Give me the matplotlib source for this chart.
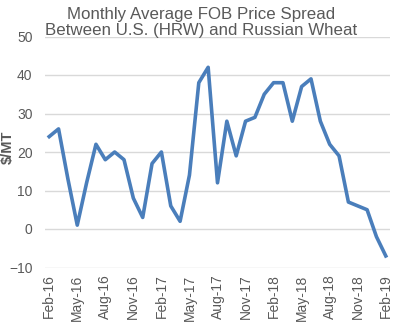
import matplotlib
matplotlib.use("Agg")
import matplotlib.pyplot as plt

plt.rcParams['font.family'] = ['Liberation Sans', 'DejaVu Sans']

months = ["Feb-16", "Mar-16", "Apr-16", "May-16", "Jun-16", "Jul-16", "Aug-16", "Sep-16", "Oct-16",
          "Nov-16", "Dec-16", "Jan-17", "Feb-17", "Mar-17", "Apr-17", "May-17", "Jun-17", "Jul-17",
          "Aug-17", "Sep-17", "Oct-17", "Nov-17", "Dec-17", "Jan-18", "Feb-18", "Mar-18", "Apr-18",
          "May-18", "Jun-18", "Jul-18", "Aug-18", "Sep-18", "Oct-18", "Nov-18", "Dec-18", "Jan-19",
          "Feb-19"]
spread = [24, 26, 13, 1, 12, 22, 18, 20, 18, 8, 3, 17, 20, 6, 2, 14, 38, 42, 12, 28, 19, 28, 29,
          35, 38, 38, 28, 37, 39, 28, 22, 19, 7, 6, 5, -2, -7]
yticks = [-10, 0, 10, 20, 30, 40, 50]

fig = plt.figure(figsize=(4.1, 3.35), dpi=100)
ax = fig.add_axes([45/410, 1 - 267.5/335, 345/410, 231/335])

x = list(range(len(months)))
ax.plot(x, spread, color='#4a7ebb', linewidth=2.6, solid_joinstyle='round', zorder=3)

ax.set_ylim(-10, 50)
ax.set_xlim(-0.45, 36.45)
ax.set_yticks(yticks)
ax.set_xticks(x[::3])
ax.set_xticklabels(months[::3], rotation=90)
ax.grid(axis='y', color='#d9d9d9', linewidth=1)
ax.set_axisbelow(True)
for s in ax.spines.values():
    s.set_visible(False)
ax.tick_params(axis='both', length=0, labelsize=10, colors='#595959')
ax.tick_params(axis='y', pad=9)
ax.tick_params(axis='x', pad=5)
ax.set_ylabel("$/MT", fontsize=10.5, color='#595959', fontweight='bold')
ax.yaxis.set_label_coords(-0.087, 0.52)

fig.text(0.49, 0.98, "Monthly Average FOB Price Spread\nBetween U.S. (HRW) and Russian Wheat",
         ha='center', va='top', fontsize=12.2, color='#595959', linespacing=1.12)

fig.savefig("out.png", dpi=100)
